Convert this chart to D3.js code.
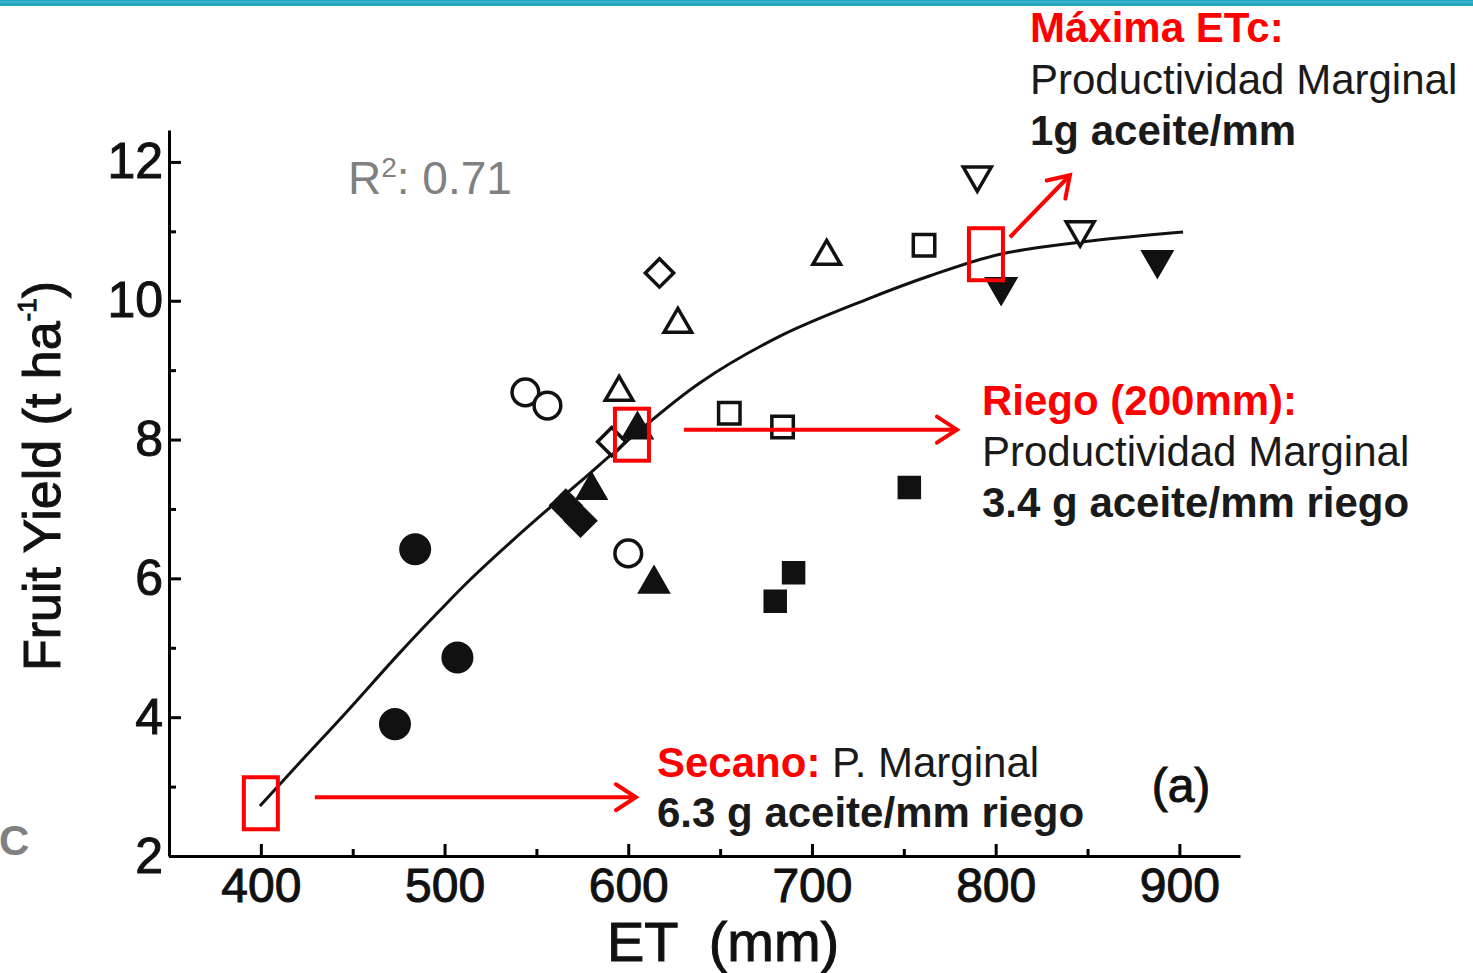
<!DOCTYPE html>
<html>
<head>
<meta charset="utf-8">
<script src="https://cdn.jsdelivr.net/npm/d3@7"></script>
<style>
  body { margin: 0; background: #fff; }
  svg text { font-family: "Liberation Sans", Arial, sans-serif; }
</style>
</head>
<body>
<div id="chart"></div>
<script>
// values: [ET (mm), fruit yield (t/ha)]
const filledCircles = [[473, 3.9], [484, 6.42], [507, 4.86]];
const openCircles = [[544, 8.68], [556, 8.49], [600, 6.36]];
const openDiamonds = [[591, 7.97], [617, 10.4]];
const filledDiamonds = [[566, 7.05], [574, 6.83]];
const openTriangles = [[595, 8.68], [627, 9.66], [708, 10.64]];
const filledTriangles = [[580, 7.27], [605, 8.14], [614, 5.92]];
const openSquares = [[655, 8.38], [684, 8.18], [761, 10.8]];
const filledSquares = [[680, 5.67], [690, 6.08], [753, 7.31]];
const openInvTriangles = [[790, 11.81], [846, 11.02]];
const filledInvTriangles = [[803, 10.2], [888, 10.59]];

// fitted curve
const fitCurve = [[399.5, 2.72], [421.3, 3.35], [445.8, 4.05], [475.7, 4.93], [497.5, 5.54],
  [513.9, 5.98], [546.5, 6.77], [573.7, 7.39], [602, 8.04], [639.1, 8.82], [682.6, 9.49],
  [728.9, 10.01], [764.3, 10.36], [802.4, 10.67], [851.4, 10.86], [902, 10.99]];

const xTicks = [400, 500, 600, 700, 800, 900];
const xMinorTicks = [450, 550, 650, 750, 850];
const yTicks = [2, 4, 6, 8, 10, 12];
const yMinorTicks = [3, 5, 7, 9, 11];

// highlighted points on the curve (Secano, Riego, Máxima ETc)
const annoET = [400, 602, 794.7];
const annoYield = [2.76, 8.07, 10.67];

const width = 1473, height = 973;

const svg = d3.select('#chart').append('svg')
  .attr('width', width)
  .attr('height', height);

// teal bar along the top
svg.append('rect').attr('x', 0).attr('y', 0).attr('width', width).attr('height', 6).attr('fill', '#24a3c3');
svg.append('rect').attr('x', 0).attr('y', 1).attr('width', width).attr('height', 2).attr('fill', '#3bb3cf');

const x = d3.scaleLinear().domain([350, 933]).range([169, 1240]);
const y = d3.scaleLinear().domain([2, 12.46]).range([856, 130]);

const ink = '#111';

// axes
const xAxis = svg.append('g')
  .attr('transform', `translate(0,${y(2)})`)
  .call(d3.axisBottom(x).tickValues(xTicks).tickSizeInner(-12).tickSizeOuter(0).tickPadding(12).tickFormat(d3.format('d')));
xAxis.select('.domain').attr('stroke-width', 3);
xAxis.selectAll('.tick line').attr('stroke-width', 3);
xAxis.selectAll('.tick text')
  .attr('font-size', 48)
  .attr('fill', ink)
  .attr('stroke', ink)
  .attr('stroke-width', 1)
  .attr('font-family', '"Liberation Sans", Arial, sans-serif');

svg.append('g')
  .attr('transform', `translate(0,${y(2)})`)
  .call(d3.axisBottom(x).tickValues(xMinorTicks).tickSize(-7).tickFormat(''))
  .call(g => g.select('.domain').remove())
  .selectAll('.tick line').attr('stroke-width', 3);

const yAxis = svg.append('g')
  .attr('transform', `translate(${x(350)},0)`)
  .call(d3.axisLeft(y).tickValues(yTicks).tickSizeInner(-12).tickSizeOuter(0).tickPadding(6));
yAxis.select('.domain').attr('stroke-width', 3);
yAxis.selectAll('.tick line').attr('stroke-width', 3);
yAxis.selectAll('.tick text')
  .attr('font-size', 50)
  .attr('fill', ink)
  .attr('stroke', ink)
  .attr('stroke-width', 1)
  .attr('font-family', '"Liberation Sans", Arial, sans-serif');

svg.append('g')
  .attr('transform', `translate(${x(350)},0)`)
  .call(d3.axisLeft(y).tickValues(yMinorTicks).tickSize(-7).tickFormat(''))
  .call(g => g.select('.domain').remove())
  .selectAll('.tick line').attr('stroke-width', 3);

// axis titles
svg.append('text')
  .attr('x', 607).attr('y', 961)
  .attr('font-size', 56)
  .attr('fill', ink)
  .attr('stroke', ink)
  .attr('stroke-width', 1)
  .style('white-space', 'pre')
  .text('ET  (mm)');

const yTitle = svg.append('text')
  .attr('transform', 'translate(60,476) rotate(-90)')
  .attr('text-anchor', 'middle')
  .attr('font-size', 52)
  .attr('fill', ink)
  .attr('stroke', ink)
  .attr('stroke-width', 1);
yTitle.append('tspan').text('Fruit Yield (t ha');
yTitle.append('tspan').attr('font-size', 26).attr('dy', -24).text('-1');
yTitle.append('tspan').attr('dy', 24).text(')');

// fitted curve
svg.append('path')
  .datum(fitCurve)
  .attr('fill', 'none')
  .attr('stroke', ink)
  .attr('stroke-width', 3)
  .attr('d', d3.line().x(d => x(d[0])).y(d => y(d[1])).curve(d3.curveCatmullRom.alpha(0.5)));

// markers
function drawMarkers(data, type, size, rotate, filled) {
  svg.append('g').selectAll('path')
    .data(data)
    .join('path')
    .attr('d', d3.symbol().type(type).size(size))
    .attr('transform', d => `translate(${x(d[0])},${y(d[1])}) rotate(${rotate})`)
    .attr('fill', filled ? ink : '#fff')
    .attr('stroke', ink)
    .attr('stroke-width', 3.5);
}
drawMarkers(openCircles, d3.symbolCircle, 560, 0, false);
drawMarkers(filledCircles, d3.symbolCircle, 640, 0, true);
drawMarkers(openDiamonds, d3.symbolSquare, 400, 45, false);
drawMarkers(filledDiamonds, d3.symbolSquare, 440, 45, true);
drawMarkers(openTriangles, d3.symbolTriangle, 330, 0, false);
drawMarkers(filledTriangles, d3.symbolTriangle, 330, 0, true);
drawMarkers(openSquares, d3.symbolSquare, 460, 0, false);
drawMarkers(filledSquares, d3.symbolSquare, 400, 0, true);
drawMarkers(openInvTriangles, d3.symbolTriangle, 340, 180, false);
drawMarkers(filledInvTriangles, d3.symbolTriangle, 340, 180, true);

// red boxes and arrows
const red = '#ff0000';
const arrowOffsets = [
  { x1: 54, y1: -6, x2: 375, y2: -6 },
  { x1: 52, y1: -5, x2: 325, y2: -5 },
  { x1: 24, y1: -17, x2: 84, y2: -79 }
];
annoET.forEach((et, i) => {
  const cx = x(et), cy = y(annoYield[i]);
  svg.append('rect')
    .attr('x', cx - 17).attr('y', cy - 26)
    .attr('width', 34).attr('height', 52)
    .attr('fill', 'none')
    .attr('stroke', red)
    .attr('stroke-width', 4);
  const o = arrowOffsets[i];
  const ax1 = cx + o.x1, ay1 = cy + o.y1, ax2 = cx + o.x2, ay2 = cy + o.y2;
  svg.append('line')
    .attr('x1', ax1).attr('y1', ay1).attr('x2', ax2).attr('y2', ay2)
    .attr('stroke', red).attr('stroke-width', 4);
  const ang = Math.atan2(ay2 - ay1, ax2 - ax1);
  const hl = 20, hw = 13;
  const bx = ax2 - hl * Math.cos(ang), by = ay2 - hl * Math.sin(ang);
  const px = -Math.sin(ang) * hw, py = Math.cos(ang) * hw;
  svg.append('path')
    .attr('d', `M${bx + px},${by + py}L${ax2},${ay2}L${bx - px},${by - py}`)
    .attr('fill', 'none')
    .attr('stroke', red)
    .attr('stroke-width', 4)
    .attr('stroke-linecap', 'round')
    .attr('stroke-linejoin', 'miter');
});

// annotation texts
const dark = '#1a1a1a';
function textLine(xp, yp, parts) {
  const t = svg.append('text').attr('x', xp).attr('y', yp).attr('font-size', 42);
  parts.forEach(p => {
    t.append('tspan')
      .attr('fill', p.c)
      .attr('font-weight', p.b ? 'bold' : 'normal')
      .text(p.t);
  });
}
textLine(1030, 42, [{ t: 'Máxima ETc:', c: red, b: true }]);
textLine(1030, 94, [{ t: 'Productividad Marginal', c: dark }]);
textLine(1030, 145, [{ t: '1g aceite/mm', c: dark, b: true }]);

textLine(982, 415, [{ t: 'Riego (200mm):', c: red, b: true }]);
textLine(982, 466, [{ t: 'Productividad Marginal', c: dark }]);
textLine(982, 517, [{ t: '3.4 g aceite/mm riego', c: dark, b: true }]);

textLine(657, 777, [{ t: 'Secano:', c: red, b: true }, { t: ' P. Marginal', c: dark }]);
textLine(657, 827, [{ t: '6.3 g aceite/mm riego', c: dark, b: true }]);

// R squared
const r2 = svg.append('text').attr('x', 348).attr('y', 194).attr('font-size', 46).attr('fill', '#808080');
r2.append('tspan').text('R');
r2.append('tspan').attr('font-size', 28).attr('dy', -17).text('2');
r2.append('tspan').attr('dy', 17).text(': 0.71');

// panel letter and corner label
svg.append('text').attr('x', 1181).attr('y', 802).attr('text-anchor', 'middle')
  .attr('font-size', 48).attr('fill', ink).attr('stroke', ink).attr('stroke-width', 1).text('(a)');
svg.append('text').attr('x', -1).attr('y', 855).attr('font-size', 42)
  .attr('font-weight', 'bold').attr('fill', '#808080').text('C');
</script>
</body>
</html>
